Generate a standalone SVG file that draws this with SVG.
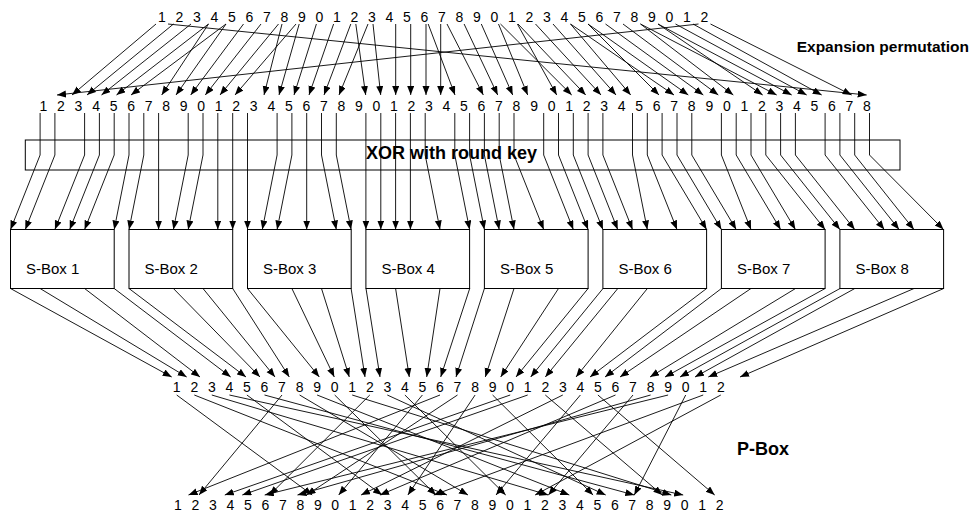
<svg xmlns="http://www.w3.org/2000/svg" width="972" height="514" viewBox="0 0 972 514">
<defs>
<marker id="ah" markerUnits="userSpaceOnUse" markerWidth="10" markerHeight="8" refX="9" refY="3.5" orient="auto"><path d="M0,0L9,3.5L0,7z" fill="#000"/></marker>
</defs>
<style>
.d{font-family:"Liberation Sans",Arial,sans-serif;font-size:14px;fill:#000;text-anchor:middle}
.b{font-family:"Liberation Sans",Arial,sans-serif;font-weight:bold;fill:#000}
.sl{font-family:"Liberation Sans",Arial,sans-serif;font-size:15px;fill:#000}
.bx{fill:#fff;stroke:#000;stroke-width:1}
.xb{fill:none;stroke:#000;stroke-width:1}
#connectors line,#connectors polyline{stroke:#000;stroke-width:0.9;fill:none;marker-end:url(#ah)}
</style>
<rect width="972" height="514" fill="#fff"/>

<g id="xor">
<rect class="xb" x="25.3" y="140" width="874.7" height="30"/>
</g>

<g id="sbox1"><rect class="bx" x="10.5" y="229.5" width="103.7" height="59"/><text class="sl" x="26" y="274">S-Box 1</text></g>
<g id="sbox2"><rect class="bx" x="129" y="229.5" width="103.7" height="59"/><text class="sl" x="144.5" y="274">S-Box 2</text></g>
<g id="sbox3"><rect class="bx" x="247.5" y="229.5" width="103.7" height="59"/><text class="sl" x="263" y="274">S-Box 3</text></g>
<g id="sbox4"><rect class="bx" x="365.9" y="229.5" width="103.7" height="59"/><text class="sl" x="381.4" y="274">S-Box 4</text></g>
<g id="sbox5"><rect class="bx" x="484.4" y="229.5" width="103.7" height="59"/><text class="sl" x="499.9" y="274">S-Box 5</text></g>
<g id="sbox6"><rect class="bx" x="602.9" y="229.5" width="103.7" height="59"/><text class="sl" x="618.4" y="274">S-Box 6</text></g>
<g id="sbox7"><rect class="bx" x="721.4" y="229.5" width="103.7" height="59"/><text class="sl" x="736.9" y="274">S-Box 7</text></g>
<g id="sbox8"><rect class="bx" x="839.9" y="229.5" width="103.7" height="59"/><text class="sl" x="855.4" y="274">S-Box 8</text></g>

<g id="connectors">
<!-- expansion -->
<line x1="698.5" y1="24" x2="57" y2="95"/>
<line x1="156" y1="24" x2="72" y2="95"/>
<line x1="173.5" y1="24" x2="87" y2="95"/>
<line x1="191" y1="24" x2="101.5" y2="95"/>
<line x1="208.5" y1="24" x2="116.5" y2="95"/>
<line x1="226" y1="24" x2="131" y2="95"/>
<line x1="208.5" y1="24" x2="161.7" y2="95"/>
<line x1="226" y1="24" x2="176" y2="95"/>
<line x1="243.5" y1="24" x2="190.7" y2="95"/>
<line x1="261" y1="24" x2="205.3" y2="95"/>
<line x1="278.5" y1="24" x2="220" y2="95"/>
<line x1="296" y1="24" x2="235" y2="95"/>
<line x1="282" y1="24" x2="264" y2="95"/>
<line x1="299.2" y1="24" x2="279" y2="95"/>
<line x1="316.4" y1="24" x2="294" y2="95"/>
<line x1="333.6" y1="24" x2="309" y2="95"/>
<line x1="350.8" y1="24" x2="324" y2="95"/>
<line x1="368" y1="24" x2="339" y2="95"/>
<line x1="355.8" y1="24" x2="365.7" y2="95"/>
<line x1="373" y1="24" x2="380.7" y2="95"/>
<line x1="395.7" y1="24" x2="395.7" y2="95"/>
<line x1="410.7" y1="24" x2="410.7" y2="95"/>
<line x1="426" y1="24" x2="426" y2="95"/>
<line x1="440.7" y1="24" x2="440.7" y2="95"/>
<line x1="428.2" y1="24" x2="455" y2="95"/>
<line x1="447" y1="24" x2="483.3" y2="95"/>
<line x1="464.1" y1="24" x2="497.7" y2="95"/>
<line x1="481.3" y1="24" x2="512.7" y2="95"/>
<line x1="498.5" y1="24" x2="527.7" y2="95"/>
<line x1="517.4" y1="24" x2="556.7" y2="95"/>
<line x1="500.5" y1="24" x2="571.7" y2="95"/>
<line x1="518" y1="24" x2="585.7" y2="95"/>
<line x1="535.5" y1="24" x2="601" y2="95"/>
<line x1="553" y1="24" x2="616" y2="95"/>
<line x1="570.5" y1="24" x2="630.7" y2="95"/>
<line x1="588" y1="24" x2="659" y2="95"/>
<line x1="570.5" y1="24" x2="674" y2="95"/>
<line x1="588" y1="24" x2="688.3" y2="95"/>
<line x1="605.5" y1="24" x2="703.3" y2="95"/>
<line x1="623" y1="24" x2="718.3" y2="95"/>
<line x1="640.5" y1="24" x2="733.3" y2="95"/>
<line x1="658" y1="24" x2="762.7" y2="95"/>
<line x1="640.5" y1="24" x2="776.7" y2="95"/>
<line x1="658" y1="24" x2="791.7" y2="95"/>
<line x1="675.5" y1="24" x2="806.7" y2="95"/>
<line x1="693" y1="24" x2="821.7" y2="95"/>
<line x1="710.5" y1="24" x2="851.7" y2="95"/>
<line x1="168" y1="24" x2="866.7" y2="95"/>
<!-- xor to s-boxes -->
<polyline points="40.1,113 40.1,155 10.5,229.5"/>
<polyline points="54.9,113 54.9,155 25.3,229.5"/>
<polyline points="84.6,113 84.6,155 54.9,229.5"/>
<polyline points="99.4,113 99.4,155 69.7,229.5"/>
<polyline points="114.2,113 114.2,155 84.6,229.5"/>
<polyline points="129,113 129,155 114.2,229.5"/>
<polyline points="143.8,113 143.8,155 129,229.5"/>
<line x1="158.6" y1="113" x2="158.6" y2="229.5"/>
<polyline points="188.2,113 188.2,155 173.4,229.5"/>
<polyline points="203,113 203,155 188.2,229.5"/>
<line x1="217.8" y1="113" x2="217.8" y2="229.5"/>
<line x1="232.7" y1="113" x2="232.7" y2="229.5"/>
<line x1="247.5" y1="113" x2="247.5" y2="229.5"/>
<polyline points="277.1,113 277.1,155 262.3,229.5"/>
<polyline points="291.9,113 291.9,155 277.1,229.5"/>
<line x1="306.7" y1="113" x2="306.7" y2="229.5"/>
<polyline points="321.5,113 321.5,155 336.3,229.5"/>
<polyline points="336.3,113 336.3,155 351.1,229.5"/>
<line x1="365.9" y1="113" x2="365.9" y2="229.5"/>
<line x1="380.8" y1="113" x2="380.8" y2="229.5"/>
<line x1="395.6" y1="113" x2="395.6" y2="229.5"/>
<line x1="410.4" y1="113" x2="410.4" y2="229.5"/>
<polyline points="425.2,113 425.2,155 440,229.5"/>
<polyline points="454.8,113 454.8,155 469.6,229.5"/>
<polyline points="469.6,113 469.6,155 484.4,229.5"/>
<polyline points="484.4,113 484.4,155 499.2,229.5"/>
<polyline points="499.2,113 499.2,155 514,229.5"/>
<polyline points="514,113 514,155 543.7,229.5"/>
<polyline points="543.7,113 543.7,155 573.3,229.5"/>
<polyline points="558.5,113 558.5,155 588.1,229.5"/>
<polyline points="573.3,113 573.3,155 602.9,229.5"/>
<polyline points="588.1,113 588.1,155 617.7,229.5"/>
<polyline points="602.9,113 602.9,155 632.5,229.5"/>
<polyline points="632.5,113 632.5,155 647.3,229.5"/>
<polyline points="647.3,113 647.3,155 677,229.5"/>
<polyline points="662.1,113 662.1,155 706.6,229.5"/>
<polyline points="677,113 677,155 721.4,229.5"/>
<polyline points="691.8,113 691.8,155 736.2,229.5"/>
<polyline points="721.4,113 721.4,155 751,229.5"/>
<polyline points="736.2,113 736.2,155 780.6,229.5"/>
<polyline points="751,113 751,155 795.4,229.5"/>
<polyline points="765.8,113 765.8,155 825.1,229.5"/>
<polyline points="780.6,113 780.6,155 839.9,229.5"/>
<polyline points="795.4,113 795.4,155 854.7,229.5"/>
<polyline points="825.1,113 825.1,155 884.3,229.5"/>
<polyline points="839.9,113 839.9,155 899.1,229.5"/>
<polyline points="854.7,113 854.7,155 913.9,229.5"/>
<polyline points="869.5,113 869.5,155 943.5,229.5"/>
<!-- s-box outputs -->
<line x1="10.5" y1="288.5" x2="171.7" y2="377"/>
<line x1="40.1" y1="288.5" x2="186.7" y2="377"/>
<line x1="84.6" y1="288.5" x2="200" y2="377"/>
<line x1="114.2" y1="288.5" x2="230.7" y2="377"/>
<line x1="129" y1="288.5" x2="246" y2="377"/>
<line x1="173.4" y1="288.5" x2="260" y2="377"/>
<line x1="203" y1="288.5" x2="275" y2="377"/>
<line x1="232.7" y1="288.5" x2="289.3" y2="377"/>
<line x1="247.5" y1="288.5" x2="319.3" y2="377"/>
<line x1="291.9" y1="288.5" x2="334.3" y2="377"/>
<line x1="321.5" y1="288.5" x2="349.3" y2="377"/>
<line x1="351.1" y1="288.5" x2="365" y2="377"/>
<line x1="366" y1="288.5" x2="380" y2="377"/>
<line x1="395.6" y1="288.5" x2="409.3" y2="377"/>
<line x1="440" y1="288.5" x2="426.7" y2="377"/>
<line x1="469.7" y1="288.5" x2="440.7" y2="377"/>
<line x1="484.4" y1="288.5" x2="456" y2="377"/>
<line x1="514" y1="288.5" x2="485.3" y2="377"/>
<line x1="558.5" y1="288.5" x2="500.7" y2="377"/>
<line x1="588.1" y1="288.5" x2="516" y2="377"/>
<line x1="603" y1="288.5" x2="530.7" y2="377"/>
<line x1="617.8" y1="288.5" x2="545.3" y2="377"/>
<line x1="647.4" y1="288.5" x2="576" y2="377"/>
<line x1="706.6" y1="288.5" x2="590" y2="377"/>
<line x1="721.4" y1="288.5" x2="605" y2="377"/>
<line x1="751" y1="288.5" x2="620" y2="377"/>
<line x1="795.5" y1="288.5" x2="650" y2="377"/>
<line x1="825.1" y1="288.5" x2="665" y2="377"/>
<line x1="840" y1="288.5" x2="680" y2="377"/>
<line x1="854.8" y1="288.5" x2="695" y2="377"/>
<line x1="914" y1="288.5" x2="708.3" y2="377"/>
<line x1="943.7" y1="288.5" x2="740" y2="377"/>
<!-- p-box -->
<line x1="440" y1="395" x2="188.5" y2="495"/>
<line x1="282" y1="395" x2="199" y2="495"/>
<line x1="510.2" y1="395" x2="224.8" y2="495"/>
<line x1="527.7" y1="395" x2="242.3" y2="495"/>
<line x1="668.1" y1="395" x2="264.7" y2="495"/>
<line x1="369.8" y1="395" x2="269.6" y2="495"/>
<line x1="650.6" y1="395" x2="297.5" y2="495"/>
<line x1="457.5" y1="395" x2="306.6" y2="495"/>
<line x1="176.7" y1="395" x2="312.2" y2="495"/>
<line x1="422.4" y1="395" x2="338.7" y2="495"/>
<line x1="562.8" y1="395" x2="361.1" y2="495"/>
<line x1="615.5" y1="395" x2="380" y2="495"/>
<line x1="246.9" y1="395" x2="382" y2="495"/>
<line x1="475.1" y1="395" x2="407.9" y2="495"/>
<line x1="703.2" y1="395" x2="433.8" y2="495"/>
<line x1="334.7" y1="395" x2="435.9" y2="495"/>
<line x1="194.3" y1="395" x2="447" y2="495"/>
<line x1="299.6" y1="395" x2="468" y2="495"/>
<line x1="580.4" y1="395" x2="496" y2="495"/>
<line x1="404.9" y1="395" x2="505.7" y2="495"/>
<line x1="720.8" y1="395" x2="535.1" y2="495"/>
<line x1="633" y1="395" x2="548.4" y2="495"/>
<line x1="211.8" y1="395" x2="548.3" y2="495"/>
<line x1="317.1" y1="395" x2="569.3" y2="495"/>
<line x1="492.6" y1="395" x2="593.1" y2="495"/>
<line x1="387.3" y1="395" x2="605.7" y2="495"/>
<line x1="685.7" y1="395" x2="634.3" y2="495"/>
<line x1="264.5" y1="395" x2="634.3" y2="495"/>
<line x1="545.3" y1="395" x2="662.3" y2="495"/>
<line x1="352.2" y1="395" x2="671.3" y2="495"/>
<line x1="229.4" y1="395" x2="683.2" y2="495"/>
<line x1="597.9" y1="395" x2="714.7" y2="495"/>
</g>

<g id="input-bits"><text class="d" y="22" x="162 179.5 197 214.5 232 249.5 267 284.5 302 319.5 337 354.5 372 389.5 407 424.5 442 459.5 477 494.5 512 529.5 547 564.5 582 599.5 617 634.5 652 669.5 687 704.5">12345678901234567890123456789012</text></g>
<g id="expanded-bits"><text class="d" y="110.5" x="43.5 61 78.5 96.1 113.6 131.1 148.6 166.1 183.7 201.2 218.7 236.2 253.7 271.3 288.8 306.3 323.8 341.3 358.9 376.4 393.9 411.4 428.9 446.5 464 481.5 499 516.5 534.1 551.6 569.1 586.6 604.1 621.7 639.2 656.7 674.2 691.7 709.3 726.8 744.3 761.8 779.3 796.9 814.4 831.9 849.4 866.9">123456789012345678901234567890123456789012345678</text></g>
<g id="sbox-out-bits"><text class="d" y="391.5" x="176.7 194.3 211.8 229.4 246.9 264.5 282 299.6 317.1 334.7 352.2 369.8 387.3 404.9 422.4 440 457.5 475.1 492.6 510.2 527.7 545.3 562.8 580.4 597.9 615.5 633 650.6 668.1 685.7 703.2 720.8">12345678901234567890123456789012</text></g>
<g id="pbox-out-bits"><text class="d" y="510" x="178 195.5 212.9 230.4 247.9 265.4 282.8 300.3 317.8 335.2 352.7 370.2 387.6 405.1 422.6 440.1 457.5 475 492.5 509.9 527.4 544.9 562.3 579.8 597.3 614.8 632.2 649.7 667.2 684.6 702.1 719.6">12345678901234567890123456789012</text></g>

<g id="labels">
<text class="b" x="796.7" y="52" font-size="15.5">Expansion permutation</text>
<text class="b" x="366" y="159" font-size="18">XOR with round key</text>
<text class="b" x="737" y="455" font-size="18">P-Box</text>
</g>
</svg>
